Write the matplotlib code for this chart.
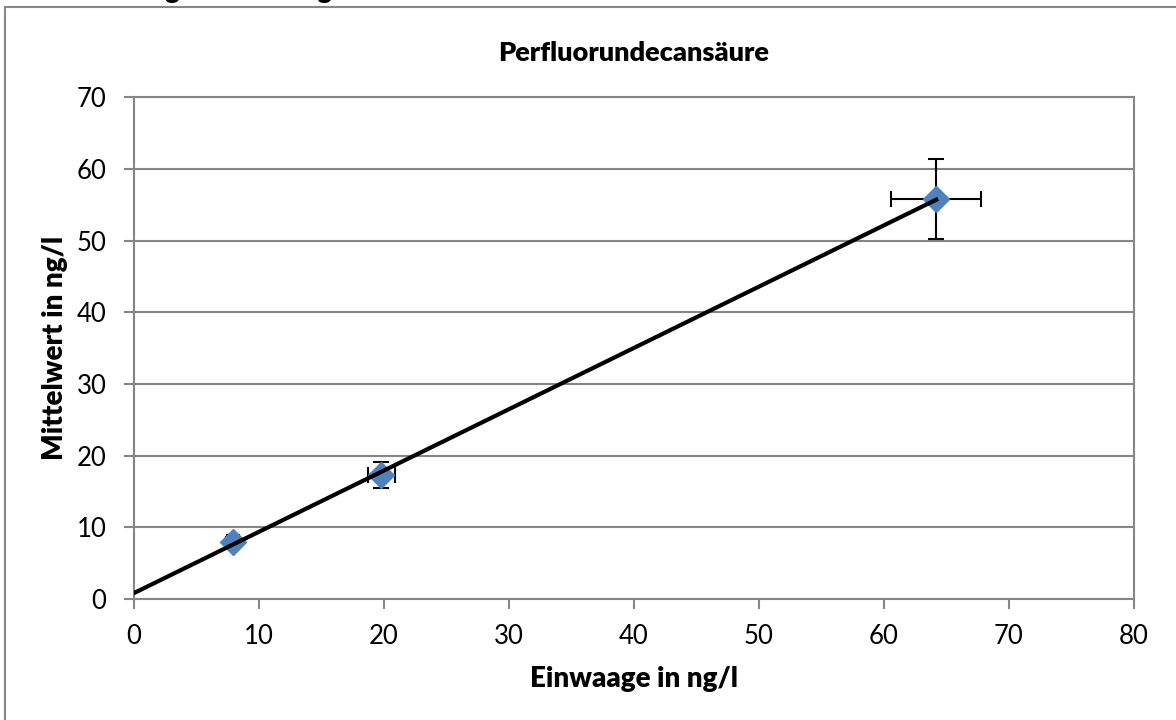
import numpy as np
import matplotlib.pyplot as plt
from matplotlib.patches import Rectangle

plt.rcParams['font.family'] = ['Lato', 'DejaVu Sans']

einwaage = [7.9, 19.8, 64.2]
mittelwert = [7.95, 17.3, 55.8]
x_err = [0.5, 1.1, 3.6]
y_err = [0.7, 1.8, 5.6]

xticks = [0, 10, 20, 30, 40, 50, 60, 70, 80]
yticks = [0, 10, 20, 30, 40, 50, 60, 70]

grau = '#868686'

fig = plt.figure(figsize=(11.76, 7.2), dpi=100)
ax = fig.add_axes([0.114, 0.168, 0.850, 0.697])

# Rahmen um das Diagramm
fig.patches.append(Rectangle((5 / 1176, -0.1), 1.2, 1.1 - 7 / 720,
                             transform=fig.transFigure, fill=False,
                             edgecolor=grau, linewidth=1.5))
fig.text(0.0, 1.012, 'Wiederfindung und Matrixgehalt', fontsize=19,
         fontweight='heavy', va='center', ha='left')

ax.errorbar(einwaage, mittelwert, xerr=x_err, yerr=y_err, fmt='none',
            ecolor='black', elinewidth=1.5, capsize=6, capthick=1.5, zorder=3)
ax.plot(einwaage, mittelwert, linestyle='none', marker='D', markersize=13,
        color='#4F81BD', zorder=4)

# lineare Trendlinie
m, b = np.polyfit(einwaage, mittelwert, 1)
xs = np.array([0, max(einwaage)])
ax.plot(xs, m * xs + b, color='black', linewidth=3, zorder=5)

ax.set_xlim(0, 80)
ax.set_ylim(0, 70)
ax.set_xticks(xticks)
ax.set_yticks(yticks)
ax.grid(axis='y', color=grau, linewidth=1.5)
ax.set_axisbelow(True)
for s in ax.spines.values():
    s.set_color(grau)
    s.set_linewidth(1.5)
ax.tick_params(direction='out', length=7, width=1.5, color=grau,
               labelsize=18.5)
ax.tick_params(axis='x', pad=11)
ax.tick_params(axis='y', pad=13)

ax.set_title('Perfluorundecansäure', fontsize=19.5, fontweight='heavy', pad=26)
ax.set_xlabel('Einwaage in ng/l', fontsize=20, fontweight='heavy', labelpad=12)
ax.set_ylabel('Mittelwert in ng/l', fontsize=20, fontweight='heavy', labelpad=6)

fig.savefig('out.png', dpi=100)
